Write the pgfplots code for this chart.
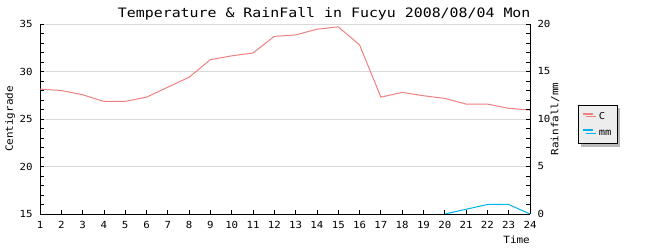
\documentclass[border=0pt]{standalone}
\usepackage{pgfplots}
\pgfplotsset{compat=1.18}
\usepackage{fontspec}
\setmainfont[FakeStretch=1.1]{DejaVu Sans Mono}
\newfontfamily\titlefont[FakeStretch=1.15]{DejaVu Sans Mono}
\usetikzlibrary{shadows}
\definecolor{tempc}{RGB}{240,128,128}
\definecolor{rainc}{RGB}{0,178,238}
\definecolor{gridc}{RGB}{217,217,217}
\pgfplotsset{
  common/.style={
    at={(40bp,36bp)}, anchor=south west,
    scale only axis, width=490bp, height=190bp,
    xmin=1, xmax=24,
    axis line style={-, line width=0.8bp, black},
    tick align=inside, major tick length=4bp, minor tick length=4bp,
    tick style={black, line width=0.8bp},
    minor y tick num=4,
    /pgf/number format/assume math mode=true,
    ticklabel style={font=\fontsize{9.8}{10}\selectfont},
    label style={font=\fontsize{9.5}{10}\selectfont},
  }
}
\begin{document}
\begin{tikzpicture}
\useasboundingbox (0,0) rectangle (650bp,250bp);
\begin{axis}[
  common,
  ymin=15, ymax=35,
  axis lines*=left,
  xtick={1,...,24}, ytick={15,20,...,35},
  xticklabel style={yshift=-4bp},
  yticklabel style={xshift=-4bp},
  ymajorgrids, grid style={gridc, line width=0.8bp},
  title={Temperature \& RainFall in Fucyu 2008/08/04 Mon},
  every axis title/.style={at={(axis description cs:0.58,1.032)}, anchor=base, inner sep=0pt, font=\titlefont\fontsize{13}{15}\selectfont},
  ylabel={Centigrade},
  every axis y label/.style={at={(axis description cs:-0.061,0.5)}, rotate=90, anchor=center, inner sep=0pt},
  xlabel={Time},
  every axis x label/.style={at={(axis description cs:1,-0.137)}, anchor=east, inner sep=0pt},
  legend style={at={(axis description cs:1.138,0.471)}, anchor=center, draw=black, fill=gray!14,
    font=\fontsize{9.5}{10}\selectfont, inner xsep=4bp, inner ysep=5bp, row sep=5bp, column sep=3bp,
    drop shadow={shadow xshift=3bp, shadow yshift=-3bp, fill=gray!55, opacity=1}},
  legend cell align=left,
  legend image code/.code={\draw[#1, line width=1.8bp] (0bp,3bp) -- (10bp,3bp);},
]
\addplot[tempc, line width=1bp] coordinates {
(1,28.15) (2,28.0) (3,27.55) (4,26.85) (5,26.85) (6,27.3) (7,28.35) (8,29.4)
(9,31.25) (10,31.65) (11,31.95) (12,33.7) (13,33.85) (14,34.45) (15,34.7) (16,32.8)
(17,27.3) (18,27.8) (19,27.45) (20,27.17) (21,26.57) (22,26.57) (23,26.12) (24,25.94)};
\addlegendentry{C}
\addlegendimage{rainc}
\addlegendentry{mm}
\end{axis}
\begin{axis}[
  common,
  ymin=0, ymax=20,
  axis x line=none, axis y line*=right,
  ytick={0,5,...,20},
  yticklabel style={xshift=4bp},
  ylabel={Rainfall/mm},
  every axis y label/.style={at={(axis description cs:1.051,0.5)}, rotate=90, anchor=center, inner sep=0pt},
]
\addplot[rainc, line width=1bp] coordinates {(20,0) (21,0.5) (22,1.0) (23,1.0) (24,0)};
\end{axis}
\end{tikzpicture}
\end{document}
